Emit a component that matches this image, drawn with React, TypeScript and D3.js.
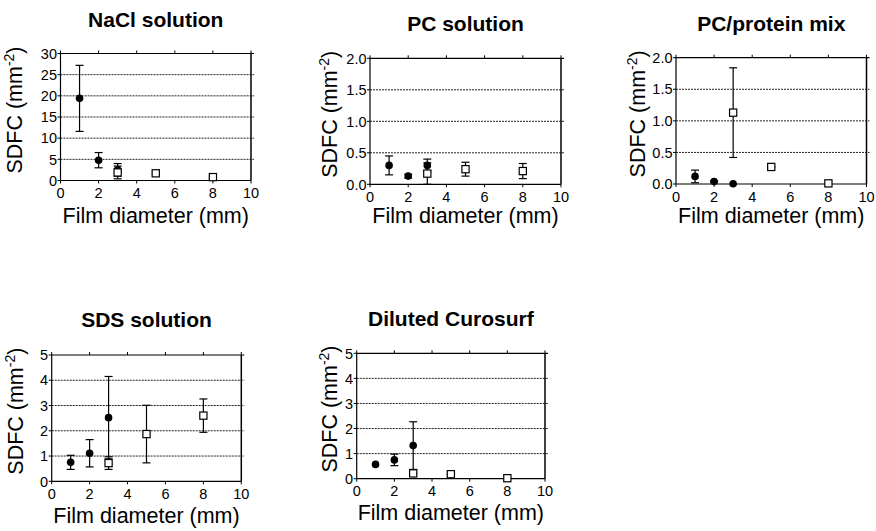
import React from "react";
import * as d3 from "d3";

type Pt = { x: number; y: number; sd: number };

// ---------- data ----------
const xTicks = [0, 2, 4, 6, 8, 10];

const titles = ["NaCl solution", "PC solution", "PC/protein mix", "SDS solution", "Diluted Curosurf"];

const yTicksNaCl = [0, 5, 10, 15, 20, 25, 30];
const yTicksPC = [0, 0.5, 1.0, 1.5, 2.0];
const yTicksSDS = [0, 1, 2, 3, 4, 5];

const naclCircles: Pt[] = [
  { x: 1, y: 19.4, sd: 7.8 },
  { x: 2, y: 4.8, sd: 1.8 },
  { x: 3, y: 2.5, sd: 1.5 },
];
const naclSquares: Pt[] = [
  { x: 3, y: 1.9, sd: 1.5 },
  { x: 5, y: 1.7, sd: 0.3 },
  { x: 8, y: 0.8, sd: 0.2 },
];

const pcCircles: Pt[] = [
  { x: 1, y: 0.3, sd: 0.15 },
  { x: 2, y: 0.13, sd: 0.03 },
  { x: 3, y: 0.3, sd: 0.1 },
];
const pcSquares: Pt[] = [
  { x: 3, y: 0.17, sd: 0.17 },
  { x: 5, y: 0.24, sd: 0.11 },
  { x: 8, y: 0.21, sd: 0.12 },
];

const mixCircles: Pt[] = [
  { x: 1, y: 0.12, sd: 0.1 },
  { x: 2, y: 0.04, sd: 0.01 },
  { x: 3, y: 0.005, sd: 0 },
];
const mixSquares: Pt[] = [
  { x: 3, y: 1.13, sd: 0.71 },
  { x: 5, y: 0.27, sd: 0.01 },
  { x: 8, y: 0.01, sd: 0 },
];

const sdsCircles: Pt[] = [
  { x: 1, y: 0.75, sd: 0.28 },
  { x: 2, y: 1.11, sd: 0.54 },
  { x: 3, y: 2.52, sd: 1.63 },
];
const sdsSquares: Pt[] = [
  { x: 3, y: 0.72, sd: 0.25 },
  { x: 5, y: 1.87, sd: 1.14 },
  { x: 8, y: 2.6, sd: 0.66 },
];

const curoCircles: Pt[] = [
  { x: 1, y: 0.57, sd: 0 },
  { x: 2, y: 0.75, sd: 0.23 },
  { x: 3, y: 1.32, sd: 0.95 },
];
const curoSquares: Pt[] = [
  { x: 3, y: 0.21, sd: 0.03 },
  { x: 5, y: 0.18, sd: 0.02 },
  { x: 8, y: 0.02, sd: 0 },
];

// ---------- layout ----------
type Layout = {
  left: number; right: number; top: number; bottom: number;
  titleY: number; xTitleY: number; yTitleX: number;
};
const layouts: Layout[] = [
  { left: 60.5, right: 251, top: 53.5, bottom: 180.5, titleY: 27, xTitleY: 222.7, yTitleX: 22 },
  { left: 370, right: 561, top: 58.3, bottom: 184.3, titleY: 31, xTitleY: 222.7, yTitleX: 336.7 },
  { left: 676, right: 866.5, top: 57.7, bottom: 184, titleY: 31, xTitleY: 222.7, yTitleX: 645 },
  { left: 51.7, right: 241.3, top: 355, bottom: 481.3, titleY: 327.3, xTitleY: 523.3, yTitleX: 23.3 },
  { left: 356.7, right: 545, top: 353.3, bottom: 478.7, titleY: 326, xTitleY: 520, yTitleX: 336.7 },
];

const FONT = "'Liberation Sans', Arial, Helvetica, sans-serif";

function Panel(props: {
  lay: Layout; title: string; yTicks: number[]; fmt: (v: number) => string;
  circles: Pt[]; squares: Pt[];
}) {
  const { lay, title, yTicks, fmt, circles, squares } = props;
  const x = d3.scaleLinear().domain([0, 10]).range([lay.left, lay.right]);
  const yMax = yTicks[yTicks.length - 1];
  const y = d3.scaleLinear().domain([0, yMax]).range([lay.bottom, lay.top]);
  const cx = (lay.left + lay.right) / 2;
  const cy = (lay.top + lay.bottom) / 2 - 7;
  const cap = 4;
  const err = (p: Pt, key: string) =>
    p.sd > 0 ? (
      <g key={key} stroke="#000" strokeWidth={1.2}>
        <line x1={x(p.x)} x2={x(p.x)} y1={y(p.y - p.sd)} y2={y(p.y + p.sd)} />
        <line x1={x(p.x) - cap} x2={x(p.x) + cap} y1={y(p.y + p.sd)} y2={y(p.y + p.sd)} />
        <line x1={x(p.x) - cap} x2={x(p.x) + cap} y1={y(p.y - p.sd)} y2={y(p.y - p.sd)} />
      </g>
    ) : null;
  return (
    <g>
      <text x={cx} y={lay.titleY} textAnchor="middle" fontFamily={FONT} fontWeight="bold" fontSize={21}>
        {title}
      </text>
      {/* grid */}
      {yTicks.filter((t) => t > 0 && t < yMax).map((t) => (
        <line key={"g" + t} x1={lay.left} x2={lay.right + 3} y1={y(t)} y2={y(t)}
          stroke="#222" strokeWidth={1} strokeDasharray="2,1" />
      ))}
      {/* frame */}
      <line x1={lay.left} x2={lay.right + 3} y1={lay.top} y2={lay.top} stroke="#000" strokeWidth={1.2} />
      <line x1={lay.right} x2={lay.right} y1={lay.top} y2={lay.bottom} stroke="#000" strokeWidth={1.5} />
      <line x1={lay.left} x2={lay.left} y1={lay.top} y2={lay.bottom} stroke="#000" strokeWidth={1.2} />
      <line x1={lay.left} x2={lay.right} y1={lay.bottom} y2={lay.bottom} stroke="#000" strokeWidth={1.2} />
      {/* y ticks */}
      {yTicks.map((t) => (
        <g key={"y" + t}>
          <line x1={lay.left - 3} x2={lay.left} y1={y(t)} y2={y(t)} stroke="#000" strokeWidth={1} />
          <text x={lay.left - 3.5} y={y(t)} dy="0.36em" textAnchor="end" fontFamily={FONT} fontSize={14.5}>
            {fmt(t)}
          </text>
        </g>
      ))}
      {/* x ticks */}
      {xTicks.map((t) => (
        <g key={"x" + t}>
          <line x1={x(t)} x2={x(t)} y1={lay.bottom} y2={lay.bottom + 3} stroke="#000" strokeWidth={1} />
          <line x1={x(t)} x2={x(t)} y1={lay.top} y2={lay.top - 3} stroke="#000" strokeWidth={1} />
          <text x={x(t)} y={lay.bottom + 17.5} textAnchor="middle" fontFamily={FONT} fontSize={14.5}>
            {t}
          </text>
        </g>
      ))}
      {/* axis titles */}
      <text x={cx} y={lay.xTitleY} textAnchor="middle" fontFamily={FONT} fontSize={21.5}>
        Film diameter (mm)
      </text>
      <text transform={`translate(${lay.yTitleX},${cy}) rotate(-90)`} textAnchor="middle" fontFamily={FONT} fontSize={21.5}>
        SDFC (mm<tspan dy={-8} fontSize={14}>-2</tspan><tspan dy={8}>)</tspan>
      </text>
      {/* data */}
      {circles.map((p, i) => err(p, "ec" + i))}
      {squares.map((p, i) => err(p, "es" + i))}
      {circles.map((p, i) => (
        <circle key={"c" + i} cx={x(p.x)} cy={y(p.y)} r={3.8} fill="#000" />
      ))}
      {squares.map((p, i) => (
        <rect key={"s" + i} x={x(p.x) - 3.6} y={y(p.y) - 3.6} width={7.2} height={7.2}
          fill="#fff" stroke="#000" strokeWidth={1.2} />
      ))}
    </g>
  );
}

const fmtInt = (v: number) => d3.format("d")(v);
const fmt1 = (v: number) => d3.format(".1f")(v);

export default function App() {
  return (
    <svg width={876} height={531} style={{ position: "absolute", left: 0, top: 0, background: "#fff" }}>
      <rect width={876} height={531} fill="#fff" />
      <Panel lay={layouts[0]} title={titles[0]} yTicks={yTicksNaCl} fmt={fmtInt} circles={naclCircles} squares={naclSquares} />
      <Panel lay={layouts[1]} title={titles[1]} yTicks={yTicksPC} fmt={fmt1} circles={pcCircles} squares={pcSquares} />
      <Panel lay={layouts[2]} title={titles[2]} yTicks={yTicksPC} fmt={fmt1} circles={mixCircles} squares={mixSquares} />
      <Panel lay={layouts[3]} title={titles[3]} yTicks={yTicksSDS} fmt={fmtInt} circles={sdsCircles} squares={sdsSquares} />
      <Panel lay={layouts[4]} title={titles[4]} yTicks={yTicksSDS} fmt={fmtInt} circles={curoCircles} squares={curoSquares} />
    </svg>
  );
}
